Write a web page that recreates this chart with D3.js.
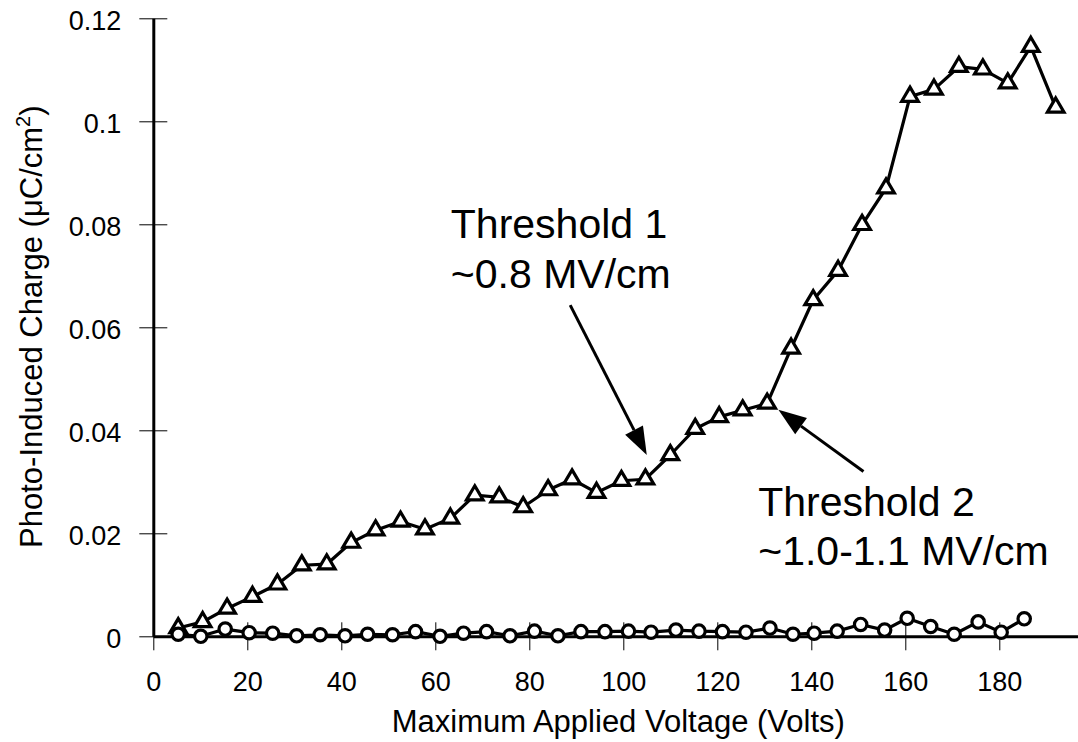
<!DOCTYPE html>
<html>
<head>
<meta charset="utf-8">
<script src="https://cdn.jsdelivr.net/npm/d3@7"></script>
<style>
  html, body { margin: 0; padding: 0; background: #fff; }
  svg { display: block; }
  text { font-family: "Liberation Sans", Arial, Helvetica, sans-serif; fill: #000; }
</style>
</head>
<body>
<svg id="chart" width="1078" height="742"></svg>
<script>
// ---- Data ----
const trianglesVolts = [5.3, 10.5, 15.7, 21.1, 26.4, 31.6, 36.9, 42.1, 47.3, 52.6, 57.8, 63.2, 68.4, 73.6, 78.7,
  84.0, 89.1, 94.3, 99.6, 104.7, 110.0, 115.3, 120.4, 125.4, 130.6, 135.7, 140.4, 145.7, 150.8, 155.9,
  161.0, 166.1, 171.4, 176.5, 181.8, 186.7, 192.0];
const trianglesCharge = [0.0016, 0.0028, 0.0054, 0.0077, 0.0101, 0.0138, 0.0140, 0.0182, 0.0206, 0.0223, 0.0208,
  0.0229, 0.0274, 0.0270, 0.0251, 0.0284, 0.0305, 0.0279, 0.0302, 0.0305, 0.0352, 0.0403, 0.0426, 0.0439,
  0.0452, 0.0559, 0.0653, 0.0710, 0.0799, 0.0870, 0.1048, 0.1062, 0.1106, 0.1101, 0.1074, 0.1145, 0.1027];

const circlesVolts = [5.3, 10.1, 15.3, 20.4, 25.4, 30.5, 35.5, 40.8, 45.6, 50.9, 55.8, 61.0, 66.0, 70.9, 75.9,
  81.1, 86.1, 91.0, 96.1, 101.1, 105.9, 111.2, 116.1, 121.1, 126.1, 131.2, 136.1, 140.6, 145.5, 150.5,
  155.6, 160.4, 165.4, 170.4, 175.5, 180.4, 185.3];
const circlesCharge = [0.0004, 0.0000, 0.0014, 0.0007, 0.0006, 0.0001, 0.0003, 0.0001, 0.0004, 0.0003, 0.0009,
  0.0000, 0.0006, 0.0009, 0.0001, 0.0010, 0.0001, 0.0009, 0.0009, 0.0010, 0.0008, 0.0012, 0.0010, 0.0009,
  0.0008, 0.0016, 0.0004, 0.0006, 0.0010, 0.0023, 0.0012, 0.0035, 0.0019, 0.0004, 0.0028, 0.0008, 0.0034];

const xTickValues = [0, 20, 40, 60, 80, 100, 120, 140, 160, 180];
const yTickValues = [0, 0.02, 0.04, 0.06, 0.08, 0.1, 0.12];
const yTickLabels = ["0", "0.02", "0.04", "0.06", "0.08", "0.1", "0.12"];

const xTitle = "Maximum Applied Voltage (Volts)";
const yTitleMain = "Photo-Induced Charge (\u03BCC/cm";
const yTitleSup = "2";
const yTitleEnd = ")";

// annotations in data units
const annotations = [
  { lines: ["Threshold 1", "~0.8 MV/cm"], x: 63.3, y: 0.0773, y2: 0.0676,
    from: [88.7, 0.0643], to: [105.0, 0.0352] },
  { lines: ["Threshold 2", "~1.0-1.1 MV/cm"], x: 128.7, y: 0.0234, y2: 0.0138,
    from: [151.1, 0.0320], to: [133.0, 0.0440] }
];

// ---- Chart ----
const svg = d3.select("#chart");
svg.append("rect").attr("width", 1078).attr("height", 742).attr("fill", "#fff");

const x = d3.scaleLinear().domain([0, 200]).range([153.3, 1093.3]);
const y = d3.scaleLinear().domain([0, 0.12]).range([636.3, 18.3]);

// Y axis
const gy = svg.append("g").attr("transform", `translate(${x(0)},0)`)
  .call(d3.axisLeft(y).tickValues(yTickValues)
    .tickFormat((d, i) => yTickLabels[i])
    .tickSizeInner(14).tickSizeOuter(0).tickPadding(18));
gy.select(".domain").attr("stroke", "#000").attr("stroke-width", 3);
gy.selectAll(".tick line").attr("x1", 14).attr("stroke", "#000").attr("stroke-width", 1);
gy.selectAll(".tick text").attr("font-size", 27).attr("dy", "0.4em")
  .attr("font-family", "Liberation Sans, Arial, sans-serif");

// X axis
const gx = svg.append("g").attr("transform", `translate(0,${y(0)})`)
  .call(d3.axisBottom(x).tickValues(xTickValues).tickFormat(d3.format("d"))
    .tickSizeInner(14).tickSizeOuter(0));
gx.select(".domain").attr("stroke", "#000").attr("stroke-width", 3);
gx.selectAll(".tick line").attr("y1", -14).attr("stroke", "#000").attr("stroke-width", 1);
gx.selectAll(".tick text").attr("font-size", 27).attr("y", 54.4).attr("dy", 0)
  .attr("font-family", "Liberation Sans, Arial, sans-serif");

// Axis titles
svg.append("text").attr("x", 618.3).attr("y", 732).attr("text-anchor", "middle")
  .attr("font-size", 31).text(xTitle);

const yt = svg.append("text").attr("transform", "translate(41.5,326.7) rotate(-90)")
  .attr("text-anchor", "middle").attr("font-size", 31);
yt.append("tspan").text(yTitleMain);
yt.append("tspan").attr("font-size", 20).attr("dy", -12).text(yTitleSup);
yt.append("tspan").attr("dy", 12).text(yTitleEnd);

// Series
const triData = trianglesVolts.map((v, i) => [v, trianglesCharge[i]]);
const cirData = circlesVolts.map((v, i) => [v, circlesCharge[i]]);
const line = d3.line().x(d => x(d[0])).y(d => y(d[1]));

svg.append("path").datum(triData).attr("d", line)
  .attr("fill", "none").attr("stroke", "#000").attr("stroke-width", 3.2).attr("stroke-linejoin", "round");

const triPath = "M0,-9.4L8.3,4.7L-8.3,4.7Z";
svg.append("g").selectAll("path").data(triData).join("path")
  .attr("transform", d => `translate(${x(d[0])},${y(d[1])})`)
  .attr("d", triPath).attr("fill", "#fff").attr("stroke", "#000").attr("stroke-width", 3.2);

svg.append("path").datum(cirData).attr("d", line)
  .attr("fill", "none").attr("stroke", "#000").attr("stroke-width", 3.2).attr("stroke-linejoin", "round");

svg.append("g").selectAll("circle").data(cirData).join("circle")
  .attr("cx", d => x(d[0])).attr("cy", d => y(d[1])).attr("r", 6.2)
  .attr("fill", "#fff").attr("stroke", "#000").attr("stroke-width", 3.2);

// Annotations
annotations.forEach(a => {
  svg.append("text").attr("x", x(a.x)).attr("y", y(a.y)).attr("font-size", 41).text(a.lines[0]);
  svg.append("text").attr("x", x(a.x)).attr("y", y(a.y2)).attr("font-size", 41).text(a.lines[1]);
  const x1 = x(a.from[0]), y1 = y(a.from[1]), x2 = x(a.to[0]), y2 = y(a.to[1]);
  const ang = Math.atan2(y2 - y1, x2 - x1);
  const hl = 28, hw = 10;
  const bx = x2 - hl * Math.cos(ang), by = y2 - hl * Math.sin(ang);
  svg.append("line").attr("x1", x1).attr("y1", y1).attr("x2", bx).attr("y2", by)
    .attr("stroke", "#000").attr("stroke-width", 3);
  const px = -Math.sin(ang) * hw, py = Math.cos(ang) * hw;
  svg.append("path")
    .attr("d", `M${x2},${y2}L${bx + px},${by + py}L${bx - px},${by - py}Z`)
    .attr("fill", "#000");
});
</script>
</body>
</html>
